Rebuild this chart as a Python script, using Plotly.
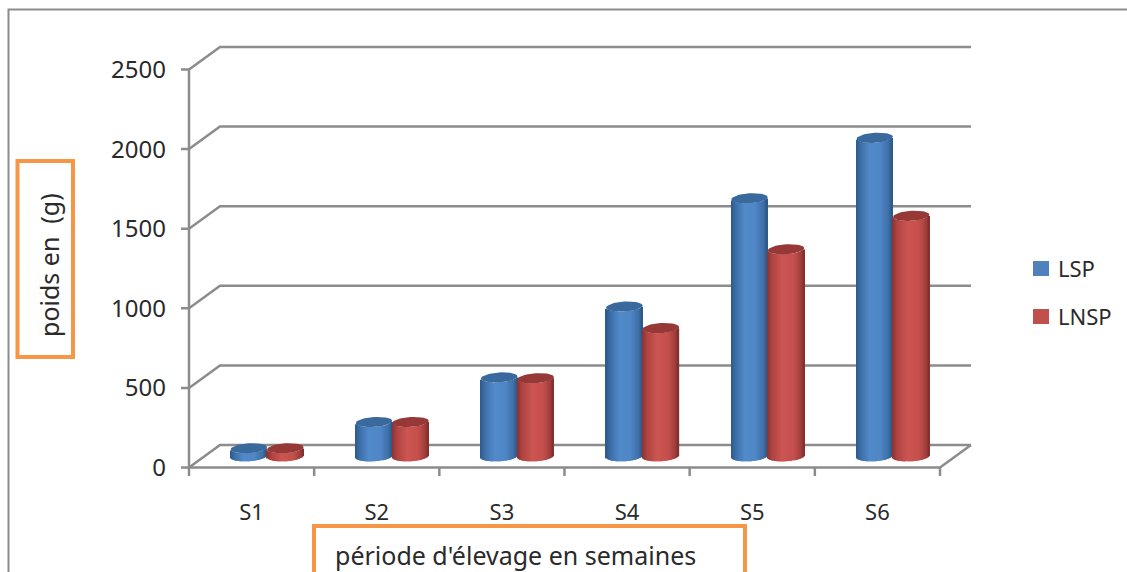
import math
import plotly.graph_objects as go

# Weekly live weight per batch
categories = ["S1", "S2", "S3", "S4", "S5", "S6"]
lsp_values = [50, 215, 495, 940, 1620, 2000]
lnsp_values = [50, 215, 490, 805, 1300, 1510]
y_ticks = [0, 500, 1000, 1500, 2000, 2500]

W, H = 1127, 572
AXIS_COLOR = "#8c8c8c"
TEXT_COLOR = "#2a2a2a"
ORANGE = "#f79646"
FONT = "'Noto Sans', sans-serif"

# Pixel scale of the oblique projection
PX_PER_CAT = (940 - 189) / 6
PX_PER_VAL = 398 / 2500
X0_PX, Y0_PX = 189, 467.5
DEPTH_X = 31 / PX_PER_CAT
DEPTH_Y = 22.5 / PX_PER_VAL

# Plot area: the margin around the walls holds the outer tick marks
LEFT, RIGHT, TOP, BOTTOM = 181, 976, 43, 476
x_range = [(LEFT - X0_PX) / PX_PER_CAT, (RIGHT - X0_PX) / PX_PER_CAT]
y_range = [(Y0_PX - BOTTOM) / PX_PER_VAL, (Y0_PX - TOP) / PX_PER_VAL]

# Cylinder geometry
RADIUS_X = 18.25 / PX_PER_CAT
RADIUS_Y = 5 / PX_PER_VAL
TILT = 1.1 / PX_PER_VAL
STRIP = 1 / PX_PER_CAT
FLOOR = DEPTH_Y / 2

BLUE_STOPS = [(0, "#2d5a8c"), (0.14, "#3d6fa8"), (0.38, "#518aca"), (0.68, "#4f86c6"), (0.9, "#3e6fa7"), (1, "#2b5787")]
RED_STOPS = [(0, "#8a3230"), (0.14, "#ae4341"), (0.42, "#cc5552"), (0.72, "#c54f4c"), (0.92, "#9f3e3b"), (1, "#7d2d2b")]


def shade(stops, t):
    for (a, ca), (b, cb) in zip(stops, stops[1:]):
        if t <= b:
            f = (t - a) / (b - a)
            parts = [
                round(int(ca[i:i + 2], 16) * (1 - f) + int(cb[i:i + 2], 16) * f)
                for i in (1, 3, 5)
            ]
            return "rgb(%d,%d,%d)" % tuple(parts)
    return stops[-1][1]


def cylinder_traces(values, side, stops, cap_color):
    """Body as one bar per pixel column, plus a filled ellipse for the lid."""
    xs, bases, heights, widths, colors = [], [], [], [], []
    cap_x, cap_y = [], []
    n = round(2 * RADIUS_X / STRIP)
    for i, value in enumerate(values):
        cx = i + 0.5 + DEPTH_X / 2 + side * RADIUS_X
        for k in range(n):
            t = (k + 0.5) / n * 2 - 1
            xs.append(cx + t * RADIUS_X)
            bases.append(FLOOR - RADIUS_Y * math.sqrt(1 - t * t) + TILT * t)
            heights.append(value)
            widths.append(STRIP * 1.2)
            colors.append(shade(stops, (t + 1) / 2))
        for a in range(49):
            ang = 2 * math.pi * a / 48
            cap_x.append(cx + RADIUS_X * math.cos(ang))
            cap_y.append(FLOOR + value + RADIUS_Y * math.sin(ang) + TILT * math.cos(ang))
        cap_x.append(None)
        cap_y.append(None)
    body = go.Bar(x=xs, y=heights, base=bases, width=widths,
                  marker=dict(color=colors, line=dict(width=0)), showlegend=False)
    cap = go.Scatter(x=cap_x, y=cap_y, mode="lines", fill="toself", fillcolor=cap_color,
                     line=dict(width=0, color=cap_color), showlegend=False)
    return [body, cap]


fig = go.Figure()
fig.add_traces(cylinder_traces(lsp_values, -1, BLUE_STOPS, "#3a699e"))
fig.add_traces(cylinder_traces(lnsp_values, 1, RED_STOPS, "#953836"))

n_cat = len(categories)
line = dict(color=AXIS_COLOR, width=2.5)
shapes = []
# Side and back wall gridlines, each starting from its tick on the value axis
for v in y_ticks:
    shapes.append(dict(
        type="path", xref="x", yref="y", layer="below", line=line,
        path=f"M {x_range[0]} {v} L 0 {v} L {DEPTH_X} {v + DEPTH_Y} L {n_cat + DEPTH_X} {v + DEPTH_Y}"))
# Value axis, category axis and right edge of the floor
shapes.append(dict(type="path", xref="x", yref="y", layer="below", line=line,
                   path=f"M 0 {y_ticks[-1]} L 0 0 L {n_cat} 0 L {n_cat + DEPTH_X} {DEPTH_Y}"))
# Category separators reaching down to the outer ticks
for i in range(n_cat + 1):
    shapes.append(dict(type="line", xref="x", yref="y", layer="below", line=line,
                       x0=i, x1=i, y0=0, y1=y_range[0]))


def paper_x(px):
    return px / W


def paper_y(px):
    return 1 - px / H


# Outer chart frame, running off the right and bottom of the page
shapes.append(dict(type="path", xref="paper", yref="paper", line=dict(color="#8c8c8c", width=2),
                   path=f"M {paper_x(8.5)} {paper_y(H)} L {paper_x(8.5)} {paper_y(9.5)} L {paper_x(W)} {paper_y(9.5)}"))
# Boxes around the two axis titles
orange = dict(color=ORANGE, width=4)
shapes.append(dict(type="rect", xref="paper", yref="paper", line=orange,
                   x0=paper_x(17.5), x1=paper_x(73), y0=paper_y(161), y1=paper_y(357)))
shapes.append(dict(type="path", xref="paper", yref="paper", line=orange,
                   path=f"M {paper_x(314)} {paper_y(H)} L {paper_x(314)} {paper_y(526)} "
                        f"L {paper_x(745)} {paper_y(526)} L {paper_x(745)} {paper_y(H)}"))
# Legend swatches
shapes.append(dict(type="rect", xref="paper", yref="paper", line=dict(width=0), fillcolor="#4f81bd",
                   x0=paper_x(1033), x1=paper_x(1049), y0=paper_y(261), y1=paper_y(276)))
shapes.append(dict(type="rect", xref="paper", yref="paper", line=dict(width=0), fillcolor="#c0504d",
                   x0=paper_x(1033), x1=paper_x(1049), y0=paper_y(309), y1=paper_y(324)))


def label(text, x, y, size=22, angle=0, anchor="center"):
    return dict(text=text, xref="paper", yref="paper", x=paper_x(x), y=paper_y(y),
                xanchor=anchor, yanchor="middle", showarrow=False, textangle=angle,
                font=dict(family=FONT, size=size, color=TEXT_COLOR))


annotations = [
    label("poids en  (g)", 49, 265, size=25, angle=-90),
    label("période d'élevage en semaines", 515, 555, size=25),
    label("LSP", 1056, 268, anchor="left"),
    label("LNSP", 1056, 316, anchor="left"),
]

fig.update_layout(
    width=W, height=H, autosize=False,
    margin=dict(l=0, r=0, t=0, b=0, autoexpand=False),
    paper_bgcolor="white", plot_bgcolor="rgba(0,0,0,0)",
    barmode="overlay", showlegend=False,
    shapes=shapes, annotations=annotations,
    xaxis=dict(
        domain=[LEFT / W, RIGHT / W], range=x_range, showgrid=False, zeroline=False,
        showline=False, tickmode="array",
        tickvals=[i + 0.5 for i in range(n_cat)], ticktext=categories, ticks="",
        ticklabelstandoff=21,
        tickfont=dict(family=FONT, size=22, color=TEXT_COLOR),
    ),
    yaxis=dict(
        domain=[1 - BOTTOM / H, 1 - TOP / H], range=y_range, showgrid=False, zeroline=False,
        showline=False, tickmode="array", tickvals=y_ticks, ticks="",
        ticklabelstandoff=14,
        tickfont=dict(family=FONT, size=24, color=TEXT_COLOR),
    ),
)

fig.write_html("out.html", config=dict(displayModeBar=False))
